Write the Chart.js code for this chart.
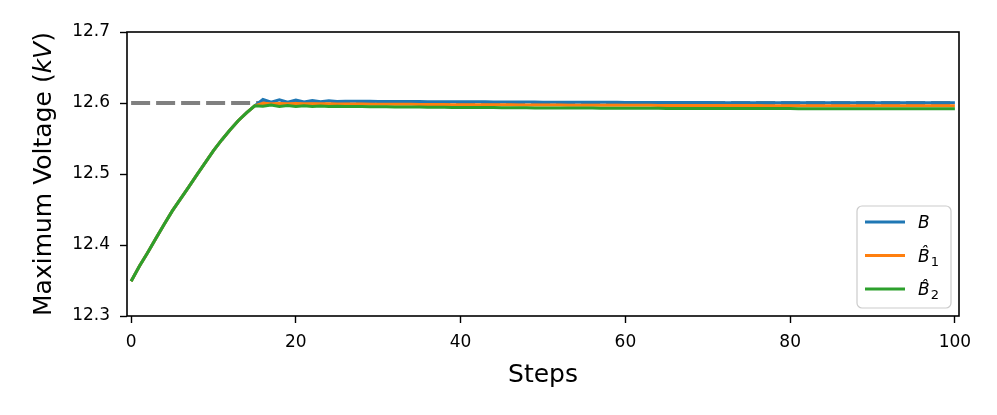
<!DOCTYPE html>
<html>
<head>
<meta charset="utf-8">
<script src="https://cdn.jsdelivr.net/npm/chart.js@4/dist/chart.umd.min.js"></script>
<style>
  html, body { margin: 0; padding: 0; background: #ffffff; }
  #wrap { width: 997px; height: 415px; position: relative; }
</style>
</head>
<body>
<div id="wrap"><canvas id="voltageChart" width="997" height="415"></canvas></div>
<script>
// Shared rise, steps 0..15 (all three curves overlap here)
const riseValues = [12.349, 12.370, 12.389, 12.409, 12.429, 12.448, 12.465, 12.482,
  12.499, 12.516, 12.533, 12.548, 12.562, 12.575, 12.586, 12.596];

// Steps 16..100 for each series
const tailB = [
  12.6050, 12.6010, 12.6045, 12.6012, 12.6040, 12.6015, 12.6035, 12.6018, 12.6030, 12.6020,
  12.6026, 12.6024, 12.6024, 12.6023, 12.6022,
  12.6022, 12.6021, 12.6021, 12.6020, 12.6020, 12.6019, 12.6019, 12.6018, 12.6018, 12.6017,
  12.6017, 12.6016, 12.6016, 12.6015, 12.6015, 12.6014, 12.6014, 12.6013, 12.6013, 12.6012,
  12.6012, 12.6011, 12.6011, 12.6011, 12.6010, 12.6010, 12.6009, 12.6009, 12.6009, 12.6008,
  12.6008, 12.6008, 12.6007, 12.6007, 12.6007, 12.6007, 12.6006, 12.6006, 12.6006, 12.6006,
  12.6005, 12.6005, 12.6005, 12.6005, 12.6005, 12.6005, 12.6005, 12.6004, 12.6004, 12.6004,
  12.6004, 12.6004, 12.6004, 12.6004, 12.6004, 12.6004, 12.6003, 12.6003, 12.6003, 12.6003,
  12.6003, 12.6003, 12.6003, 12.6003, 12.6003, 12.6003, 12.6003, 12.6003, 12.6003, 12.6003
];
const tailB1 = [
  12.5995, 12.5990, 12.5994, 12.5990, 12.5992, 12.5989, 12.5990, 12.5988, 12.5988, 12.5987,
  12.5986, 12.5985, 12.5985, 12.5984, 12.5983,
  12.5983, 12.5982, 12.5981, 12.5981, 12.5980, 12.5979, 12.5979, 12.5978, 12.5977, 12.5977,
  12.5976, 12.5976, 12.5975, 12.5975, 12.5974, 12.5974, 12.5973, 12.5973, 12.5972, 12.5972,
  12.5971, 12.5971, 12.5970, 12.5970, 12.5970, 12.5969, 12.5969, 12.5968, 12.5968, 12.5968,
  12.5967, 12.5967, 12.5967, 12.5966, 12.5966, 12.5966, 12.5965, 12.5965, 12.5965, 12.5965,
  12.5964, 12.5964, 12.5964, 12.5964, 12.5964, 12.5964, 12.5963, 12.5963, 12.5963, 12.5963,
  12.5962, 12.5962, 12.5962, 12.5962, 12.5962, 12.5962, 12.5962, 12.5962, 12.5962, 12.5962,
  12.5962, 12.5962, 12.5962, 12.5962, 12.5962, 12.5961, 12.5961, 12.5961, 12.5961, 12.5961
];
const tailB2 = [
  12.5955, 12.5970, 12.5952, 12.5966, 12.5952, 12.5962, 12.5951, 12.5958, 12.5951, 12.5954,
  12.5951, 12.5950, 12.5949, 12.5948, 12.5947,
  12.5946, 12.5945, 12.5944, 12.5943, 12.5942, 12.5941, 12.5940, 12.5939, 12.5938, 12.5938,
  12.5937, 12.5936, 12.5935, 12.5935, 12.5934, 12.5933, 12.5933, 12.5932, 12.5931, 12.5931,
  12.5930, 12.5930, 12.5929, 12.5929, 12.5928, 12.5928, 12.5927, 12.5927, 12.5926, 12.5926,
  12.5926, 12.5925, 12.5925, 12.5925, 12.5924, 12.5924, 12.5924, 12.5923, 12.5923, 12.5923,
  12.5922, 12.5922, 12.5922, 12.5922, 12.5922, 12.5922, 12.5921, 12.5921, 12.5921, 12.5921,
  12.5920, 12.5920, 12.5920, 12.5920, 12.5920, 12.5920, 12.5920, 12.5920, 12.5920, 12.5920,
  12.5920, 12.5920, 12.5920, 12.5919, 12.5919, 12.5919, 12.5919, 12.5919, 12.5919, 12.5919
];

const targetVoltage = 12.6;
const steps = Array.from({ length: riseValues.length + tailB.length }, (_, i) => i);
const xTicks = [0, 20, 40, 60, 80, 100];
const yTicks = [12.3, 12.4, 12.5, 12.6, 12.7];

const seriesB = riseValues.concat(tailB);
const seriesB1 = riseValues.concat(tailB1);
const seriesB2 = riseValues.concat(tailB2);

// legend text: base letter (italic), subscript (upright)
const legendItems = [
  { base: 'B', sub: '', color: '#1f77b4' },
  { base: 'B\u0302', sub: '1', color: '#ff7f0e' },
  { base: 'B\u0302', sub: '2', color: '#2ca02c' }
];

const FONT = 'DejaVu Sans';

// Frame, axis titles and legend drawn on top
const decorPlugin = {
    id: 'decor',
    afterDraw(chart) {
        const ctx = chart.ctx;
        const a = chart.chartArea;
        ctx.save();

        // all four spines
        ctx.strokeStyle = '#000';
        ctx.lineWidth = 1.6;
        ctx.strokeRect(a.left, a.top, a.right - a.left, a.bottom - a.top);

        // x title
        ctx.fillStyle = '#000';
        ctx.font = '25px "' + FONT + '"';
        ctx.textAlign = 'center';
        ctx.textBaseline = 'alphabetic';
        ctx.fillText('Steps', (a.left + a.right) / 2, 382);

        // y title with italic kV
        const parts = [
            { t: 'Maximum Voltage (', f: '25px "' + FONT + '"' },
            { t: 'kV', f: 'italic 25px "' + FONT + '"' },
            { t: ')', f: '25px "' + FONT + '"' }
        ];
        let total = 0;
        parts.forEach(p => { ctx.font = p.f; p.w = ctx.measureText(p.t).width; total += p.w; });
        ctx.translate(51, (a.top + a.bottom) / 2);
        ctx.rotate(-Math.PI / 2);
        ctx.textAlign = 'left';
        let px = -total / 2;
        parts.forEach(p => { ctx.font = p.f; ctx.fillText(p.t, px, 0); px += p.w; });
        ctx.setTransform(1, 0, 0, 1, 0, 0);

        // legend box
        const bx = 857, by = 206, bw = 94, bh = 102, r = 5;
        ctx.beginPath();
        ctx.moveTo(bx + r, by);
        ctx.arcTo(bx + bw, by, bx + bw, by + bh, r);
        ctx.arcTo(bx + bw, by + bh, bx, by + bh, r);
        ctx.arcTo(bx, by + bh, bx, by, r);
        ctx.arcTo(bx, by, bx + bw, by, r);
        ctx.closePath();
        ctx.fillStyle = 'rgba(255,255,255,0.8)';
        ctx.fill();
        ctx.strokeStyle = '#cccccc';
        ctx.lineWidth = 1.2;
        ctx.stroke();

        legendItems.forEach((it, i) => {
            const y = 222 + i * 33.5;
            ctx.strokeStyle = it.color;
            ctx.lineWidth = 3;
            ctx.beginPath();
            ctx.moveTo(865, y);
            ctx.lineTo(905, y);
            ctx.stroke();
            ctx.fillStyle = '#000';
            ctx.textAlign = 'left';
            ctx.textBaseline = 'alphabetic';
            ctx.font = 'italic 17px "' + FONT + '"';
            ctx.fillText(it.base, 918, y + 6);
            if (it.sub) {
                const w = ctx.measureText('B').width;
                ctx.font = '13px "' + FONT + '"';
                ctx.fillText(it.sub, 918 + w + 1, y + 10);
            }
        });
        ctx.restore();
    }
};

new Chart(document.getElementById('voltageChart'), {
    type: 'line',
    data: {
        labels: steps,
        datasets: [
            {
                label: 'B',
                data: seriesB,
                borderColor: '#1f77b4',
                borderWidth: 3,
                pointRadius: 0,
                tension: 0,
                order: 3
            },
            {
                label: 'B\u0302\u2081',
                data: seriesB1,
                borderColor: '#ff7f0e',
                borderWidth: 3,
                pointRadius: 0,
                tension: 0,
                order: 2
            },
            {
                label: 'B\u0302\u2082',
                data: seriesB2,
                borderColor: '#2ca02c',
                borderWidth: 3,
                pointRadius: 0,
                tension: 0,
                order: 1
            },
            {
                label: 'target',
                data: [{ x: 0, y: targetVoltage }, { x: 100, y: targetVoltage }],
                borderColor: '#808080',
                borderWidth: 4,
                borderDash: [19, 6],
                borderCapStyle: 'butt',
                pointRadius: 0,
                order: 4
            }
        ]
    },
    options: {
        responsive: false,
        animation: false,
        layout: { padding: { top: 32, right: 38, bottom: 0, left: 0 } },
        plugins: {
            legend: { display: false },
            tooltip: { enabled: false }
        },
        scales: {
            x: {
                type: 'linear',
                min: -0.5,
                max: 100.5,
                afterBuildTicks: (scale) => { scale.ticks = xTicks.map(v => ({ value: v })); },
                afterFit: (scale) => { scale.height = 99; },
                grid: { drawOnChartArea: false, tickLength: 7, tickWidth: 1.4, tickColor: '#000' },
                border: { display: false },
                ticks: {
                    color: '#000',
                    font: { family: FONT, size: 17 },
                    padding: 9,
                    maxRotation: 0,
                    autoSkip: false
                }
            },
            y: {
                min: 12.3,
                max: 12.7,
                afterBuildTicks: (scale) => { scale.ticks = yTicks.map(v => ({ value: v })); },
                afterFit: (scale) => { scale.width = 127; },
                grid: { drawOnChartArea: false, tickLength: 7, tickWidth: 1.4, tickColor: '#000' },
                border: { display: false },
                ticks: {
                    color: '#000',
                    font: { family: FONT, size: 17 },
                    padding: 10,
                    callback: (v) => v.toFixed(1)
                }
            }
        }
    },
    plugins: [decorPlugin]
});
</script>
</body>
</html>
